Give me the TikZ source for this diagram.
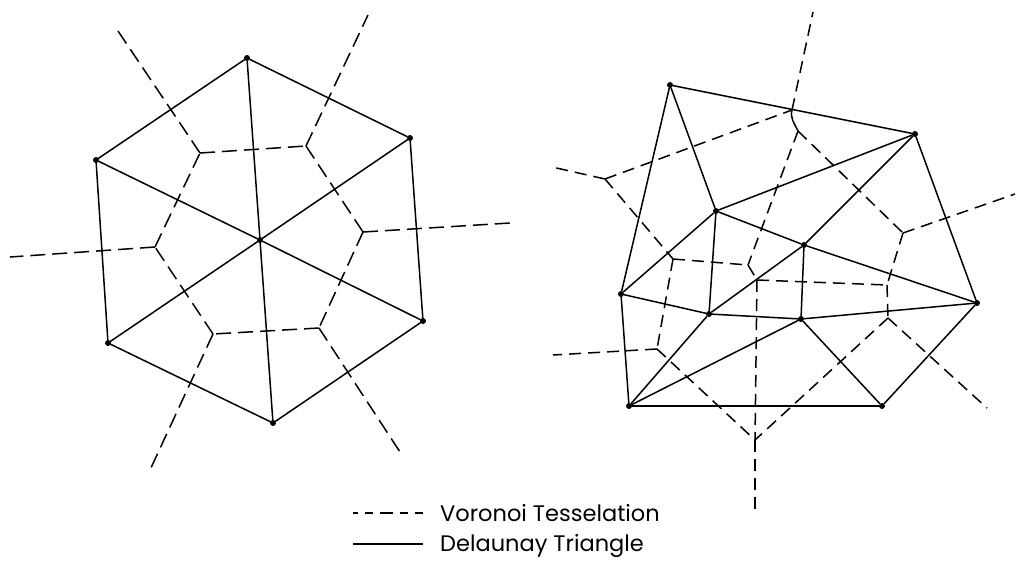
\documentclass[tikz,border=0pt]{standalone}
\usepackage{fontspec}
\setmainfont{Poppins}
\begin{document}
\begin{tikzpicture}[x=1pt,y=-1pt,
  del/.style={line width=1.5pt, line cap=round, line join=round},
  vor/.style={line width=1.5pt, dash pattern=on 15pt off 7pt},
  vorb/.style={line width=1.5pt, dash pattern=on 12pt off 7pt},
  pt/.style={circle, fill=black, inner sep=0pt, minimum size=6pt},
  lbl/.style={anchor=base west, inner sep=0pt, font=\fontsize{22.5}{26}\selectfont}]
\useasboundingbox (0,0) rectangle (1017,562);

% ---------- regular hexagon with centre point ----------
\node[pt] (t)  at (247,58)  {};
\node[pt] (ur) at (410,138) {};
\node[pt] (lr) at (423,321) {};
\node[pt] (b)  at (273,423) {};
\node[pt] (ll) at (108,343) {};
\node[pt] (ul) at (96,160)  {};
\node[pt] (c)  at (260,240) {};

\coordinate (v1) at (200,153);
\coordinate (v2) at (306,146);
\coordinate (v3) at (363,232);
\coordinate (v4) at (319,328);
\coordinate (v5) at (213,334);
\coordinate (v6) at (155,247);
\coordinate (e1) at (118,31);
\coordinate (e2) at (368,15);
\coordinate (e3) at (510,223);
\coordinate (e4) at (400,452);
\coordinate (e5) at (150,470);
\coordinate (e6) at (10,257);

% Delaunay triangles
\draw[del] (t) -- (ur) -- (lr) -- (b) -- (ll) -- (ul) -- (t);
\foreach \p in {t,ur,lr,b,ll,ul} \draw[del] (c) -- (\p);

% Voronoi cells
\draw[vor] (v1) -- (v2);
\draw[vor] (v2) -- (v3);
\draw[vor] (v3) -- (v4);
\draw[vor] (v4) -- (v5);
\draw[vor] (v5) -- (v6);
\draw[vor] (v6) -- (v1);
\draw[vor] (v1) -- (e1);
\draw[vor] (v2) -- (e2);
\draw[vor] (v3) -- (e3);
\draw[vor] (v4) -- (e4);
\draw[vor] (v5) -- (e5);
\draw[vor] (v6) -- (e6);

% ---------- irregular point set ----------
\node[pt] (p1)  at (670,85)  {};
\node[pt] (p2)  at (915,134) {};
\node[pt] (p3)  at (716,211) {};
\node[pt] (p4)  at (804,245) {};
\node[pt] (p5)  at (621,294) {};
\node[pt] (p6)  at (977,303) {};
\node[pt] (p7)  at (709,314) {};
\node[pt] (p8)  at (801,319) {};
\node[pt] (p9)  at (629,406) {};
\node[pt] (p10) at (882,406) {};

\coordinate (va)  at (605,179);
\coordinate (vb1) at (792,110);
\coordinate (vb2) at (798,131);
\coordinate (vc)  at (673,259);
\coordinate (vd)  at (748,265);
\coordinate (vh)  at (757,280);
\coordinate (ve)  at (903,233);
\coordinate (vj)  at (887,285);
\coordinate (vi)  at (888,318);
\coordinate (vf)  at (657,349);
\coordinate (vg)  at (755,440);
\coordinate (ra)  at (552,167);
\coordinate (rb)  at (813,12);
\coordinate (re)  at (1015,194);
\coordinate (ri)  at (987,408);
\coordinate (rf)  at (553,355);
\coordinate (rg)  at (755,510);

% Delaunay triangles
\draw[del] (p1) -- (p2);
\draw[del] (p1) -- (p5);
\draw[del] (p1) -- (p3);
\draw[del] (p2) -- (p3);
\draw[del] (p2) -- (p4);
\draw[del] (p2) -- (p6);
\draw[del] (p3) -- (p4);
\draw[del] (p3) -- (p5);
\draw[del] (p3) -- (p7);
\draw[del] (p4) -- (p7);
\draw[del] (p4) -- (p8);
\draw[del] (p4) -- (p6);
\draw[del] (p5) -- (p7);
\draw[del] (p5) -- (p9);
\draw[del] (p7) -- (p8);
\draw[del] (p8) -- (p6);
\draw[del] (p7) -- (p9);
\draw[del] (p8) -- (p9);
\draw[del] (p8) -- (p10);
\draw[del] (p9) -- (p10);
\draw[del] (p10) -- (p6);

% Voronoi cells
\draw[vorb] (va) -- (ra);
\draw[vorb] (va) -- (vb1);
\draw[vorb] (va) -- (vc);
\draw[vorb] (vb1) -- (rb);
\draw[line width=1.5pt] (vb1) to[out=-105,in=115] (vb2);
\draw[vorb] (vb2) -- (vd);
\draw[vorb] (vb2) -- (ve);
\draw[vorb] (vc) -- (vd);
\draw[vorb] (vc) -- (vf);
\draw[vorb] (vd) -- (vh);
\draw[vorb] (vh) -- (vj);
\draw[vorb] (vh) -- (vg);
\draw[vorb] (ve) -- (re);
\draw[vorb] (ve) -- (vj);
\draw[vorb] (vj) -- (vi);
\draw[vorb] (vi) -- (vg);
\draw[vorb] (vi) -- (ri);
\draw[vorb] (vf) -- (rf);
\draw[vorb] (vf) -- (vg);
\draw[vorb] (vg) -- (rg);

% ---------- legend ----------
\coordinate (k1a) at (353,513);
\coordinate (k1b) at (423,513);
\coordinate (k2a) at (353,544);
\coordinate (k2b) at (423,544);
\draw[line width=1.3pt, dash pattern=on 5pt off 7pt on 8pt off 7pt on 13pt off 7pt on 8pt off 7pt on 8pt] (k1a) -- (k1b);
\draw[line width=1.3pt] (k2a) -- (k2b);
\node[lbl] (kv) at (440,521) {Voronoi Tesselation};
\node[lbl] (kd) at (440,551) {Delaunay Triangle};
\end{tikzpicture}
\end{document}
